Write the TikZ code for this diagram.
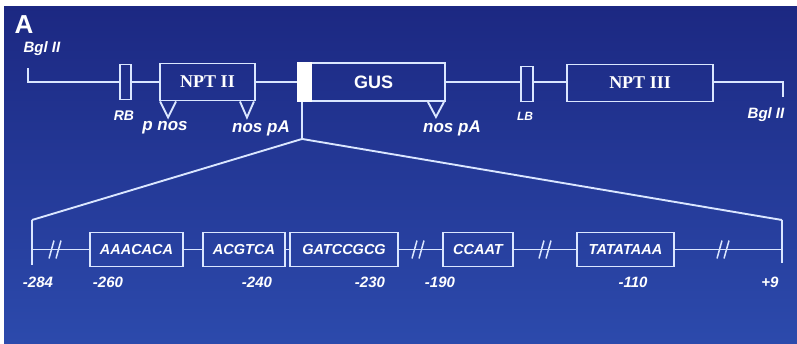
\documentclass[tikz,border=0pt]{standalone}
\usepackage{fontspec}
\setmainfont{Liberation Sans}
\newfontfamily\serifbold{Liberation Serif}
\usetikzlibrary{calc}
\definecolor{bgtop}{RGB}{28,40,130}
\definecolor{bgbot}{RGB}{44,74,172}
\definecolor{lncol}{RGB}{218,230,255}
\begin{document}
\begin{tikzpicture}[x=1pt,y=-1pt,
  ln/.style={draw=lncol, line width=1.9pt},
  gbox/.style={ln, rectangle, inner sep=0pt, text=white},
  lab/.style={text=white, inner sep=0pt, font=\fontsize{15}{15}\selectfont\bfseries\itshape},
  seqtxt/.style={font=\fontsize{14.5}{14.5}\selectfont\bfseries\itshape},
  gene/.style={font=\fontsize{18}{18}\selectfont\serifbold\bfseries}]
\useasboundingbox (0,0) rectangle (797,343);
\fill[white] (0,0) rectangle (797,343);
\shade[top color=bgtop, bottom color=bgbot] (4,6) rectangle (797,343);

% title
\node[text=white, inner sep=0pt, font=\fontsize{26}{26}\selectfont\bfseries] (ttl) at (24,25) {A};

% top construct
\node[gbox, minimum width=11pt, minimum height=35pt] (rb) at (125.5,82) {};
\node[gbox, gene, minimum width=95pt, minimum height=37pt] (npt2) at (207.5,82) {NPT II};
\node[gbox, minimum width=147pt, minimum height=38pt, font=\fontsize{18}{18}\selectfont\bfseries] (gus) at (371.5,82) {\hspace{4pt}GUS};
\node[gbox, minimum width=12pt, minimum height=35pt] (lb) at (527,84) {};
\node[gbox, gene, minimum width=146pt, minimum height=37pt] (npt3) at (640,83) {NPT III};
\fill[white] (gus.north west) rectangle ($(gus.south west)+(15,0)$);

\coordinate (bl) at (28,68);
\coordinate (blc) at (28,82);
\coordinate (br) at (783,82);
\coordinate (brb) at (783,97);
\draw[ln] (bl) -- (blc) -- (rb.west);
\draw[ln] (rb.east) -- (npt2.west);
\draw[ln] (npt2.east) -- (gus.west);
\draw[ln] (gus.east) -- (lb.west |- gus.east);
\draw[ln] (lb.east |- gus.east) -- (npt3.west |- gus.east);
\draw[ln] (npt3.east |- gus.east) -- (br) -- (brb);

% triangles
\draw[ln, line join=miter] ($(npt2.south west)+(1,0)$) -- ++(8,16) -- ++(8,-16);
\draw[ln, line join=miter] ($(npt2.south east)+(-16,0)$) -- ++(7,16) -- ++(7,-16);
\draw[ln, line join=miter] ($(gus.south east)+(-18,0)$) -- ++(8,15) -- ++(8,-15);

% labels top
\node[lab] (bgl1) at (42,49) {Bgl II};
\node[lab] (bgl2) at (766,115) {Bgl II};
\node[lab, font=\fontsize{14}{14}\selectfont\bfseries\itshape] (rbl) at (124,116) {RB};
\node[lab, font=\fontsize{12}{12}\selectfont\bfseries\itshape] (lbl) at (525,116) {LB};
\node[lab, font=\fontsize{17}{17}\selectfont\bfseries\itshape] (pnos) at (165,128) {p nos};
\node[lab, font=\fontsize{17}{17}\selectfont\bfseries\itshape] (npa1) at (261,128) {nos pA};
\node[lab, font=\fontsize{17}{17}\selectfont\bfseries\itshape] (npa2) at (452,128) {nos pA};

% zoom lines
\coordinate (zs) at ($(gus.south west)+(5,0)$);
\coordinate (zp) at ($(zs)+(0,37)$);
\coordinate (zl) at (32,220);
\coordinate (zr) at (782,220);
\coordinate (zlb) at (32,265);
\coordinate (zrb) at (782,263);
\draw[ln] (zs) -- (zp);
\draw[ln] (zl) -- (zp) -- (zr);
\draw[ln] (zl) -- (zlb);
\draw[ln] (zr) -- (zrb);

% promoter row
\node[gbox, seqtxt, minimum width=93pt, minimum height=34pt] (b1) at (136.5,249.5) {AAACACA};
\node[gbox, seqtxt, minimum width=82pt, minimum height=34pt] (b2) at (244,249.5) {ACGTCA};
\node[gbox, seqtxt, minimum width=108pt, minimum height=34pt] (b3) at (344,249.5) {GATCCGCG};
\node[gbox, seqtxt, minimum width=70pt, minimum height=34pt] (b4) at (478,249.5) {CCAAT};
\node[gbox, seqtxt, minimum width=97pt, minimum height=34pt] (b5) at (625.5,249.5) {TATATAAA};
\coordinate (ll) at (32,249.5);
\coordinate (lr) at (782,249.5);
\draw[ln] (ll) -- (b1.west);
\draw[ln] (b1.east) -- (b2.west);
\draw[ln] (b2.east) -- (b3.west);
\draw[ln] (b3.east) -- (b4.west);
\draw[ln] (b4.east) -- (b5.west);
\draw[ln] (b5.east) -- (lr);

% breaks
\coordinate (k1) at (55,249.5);
\coordinate (k2) at (418,249.5);
\coordinate (k3) at (545,249.5);
\coordinate (k4) at (723,249.5);
\foreach \c in {k1,k2,k3,k4}{
  \draw[ln, line width=1.5pt] ($(\c)+(-6,9)$) -- ++(5,-18);
  \draw[ln, line width=1.5pt] ($(\c)+(1,9)$) -- ++(5,-18);
}

% position numbers
\node[lab] (n1) at (38,282) {-284};
\node[lab] (n2) at (108,282) {-260};
\node[lab] (n3) at (257,282) {-240};
\node[lab] (n4) at (370,282) {-230};
\node[lab] (n5) at (440,282) {-190};
\node[lab] (n6) at (633,282) {-110};
\node[lab] (n7) at (770,282) {+9};
\end{tikzpicture}
\end{document}
